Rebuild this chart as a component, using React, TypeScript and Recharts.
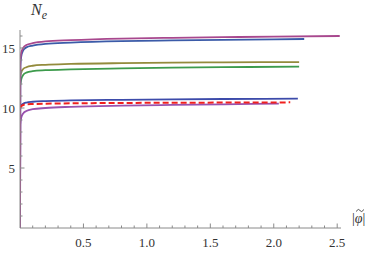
import { LineChart, Line, XAxis, YAxis } from 'recharts';

// N_e vs |phi~| curves
const topMagentaX = [0, 0.003, 0.01, 0.025, 0.05, 0.1, 0.2, 0.4, 0.8, 1.2, 1.6, 2.0, 2.52];
const topMagentaY = [0, 13.8, 14.6, 15.0, 15.25, 15.4, 15.55, 15.65, 15.78, 15.85, 15.9, 15.95, 16.0];

const topBlueX = [0, 0.003, 0.01, 0.025, 0.05, 0.1, 0.2, 0.4, 0.8, 1.2, 1.6, 2.0, 2.24];
const topBlueY = [0, 13.5, 14.3, 14.8, 15.05, 15.2, 15.35, 15.45, 15.57, 15.63, 15.68, 15.72, 15.75];

const oliveX = [0, 0.01, 0.025, 0.05, 0.1, 0.2, 0.4, 0.8, 1.2, 1.6, 2.2];
const oliveY = [12.6, 13.0, 13.25, 13.4, 13.52, 13.6, 13.67, 13.74, 13.78, 13.8, 13.83];

const greenX = [0, 0.01, 0.025, 0.05, 0.1, 0.2, 0.4, 0.8, 1.2, 1.6, 2.2];
const greenY = [11.8, 12.4, 12.75, 12.95, 13.07, 13.15, 13.22, 13.3, 13.36, 13.4, 13.44];

const lowBlueX = [0, 0.01, 0.025, 0.05, 0.1, 0.2, 0.4, 0.8, 1.2, 1.6, 2.19];
const lowBlueY = [9.9, 10.2, 10.35, 10.45, 10.52, 10.58, 10.63, 10.68, 10.72, 10.75, 10.78];

const redDashX = [0, 0.01, 0.025, 0.05, 0.1, 0.2, 0.4, 0.8, 1.2, 1.6, 2.13];
const redDashY = [10.0, 10.15, 10.25, 10.3, 10.33, 10.36, 10.39, 10.42, 10.44, 10.45, 10.47];

const lowPurpleX = [0, 0.003, 0.01, 0.025, 0.05, 0.1, 0.2, 0.4, 0.8, 1.2, 1.6, 2.04];
const lowPurpleY = [0, 8.6, 9.2, 9.55, 9.75, 9.9, 10.0, 10.1, 10.2, 10.26, 10.31, 10.36];

const xTicks = [0.1, 0.2, 0.3, 0.4, 0.5, 0.6, 0.7, 0.8, 0.9, 1.0, 1.1, 1.2, 1.3, 1.4, 1.5, 1.6, 1.7, 1.8, 1.9, 2.0, 2.1, 2.2, 2.3, 2.4, 2.5];
const yTicks = [1, 2, 3, 4, 5, 6, 7, 8, 9, 10, 11, 12, 13, 14, 15, 16];

const toPoints = (xs: number[], ys: number[]) => xs.map((x, i) => ({ x, y: ys[i] }));

const series = [
  { name: 'lowPurple', data: toPoints(lowPurpleX, lowPurpleY), color: '#9a52ae' },
  { name: 'lowBlue', data: toPoints(lowBlueX, lowBlueY), color: '#3d4baa' },
  { name: 'green', data: toPoints(greenX, greenY), color: '#3d9b4c' },
  { name: 'olive', data: toPoints(oliveX, oliveY), color: '#938b3c' },
  { name: 'topBlue', data: toPoints(topBlueX, topBlueY), color: '#3b5ba8' },
  { name: 'topMagenta', data: toPoints(topMagentaX, topMagentaY), color: '#a8488e' },
];
const redDash = toPoints(redDashX, redDashY);

const font = '"Liberation Serif", "DejaVu Serif", serif';
const axisColor = '#8a8a8a';

function XTick({ x, y, payload }: any) {
  const v = payload.value;
  const major = Math.abs(v * 2 - Math.round(v * 2)) < 1e-6;
  return (
    <g>
      <line x1={x} x2={x} y1={y} y2={y - (major ? 4.5 : 2.5)} stroke={axisColor} strokeWidth={1} />
      {major && (
        <text x={x} y={y + 19} textAnchor="middle" fontFamily={font} fontSize={13} fill="#333">
          {v.toFixed(1)}
        </text>
      )}
    </g>
  );
}

function YTick({ x, y, payload }: any) {
  const v = payload.value;
  const major = v % 5 === 0;
  return (
    <g>
      <line x1={x} x2={x + (major ? 4.5 : 2.5)} y1={y} y2={y} stroke={axisColor} strokeWidth={1} />
      {major && (
        <text x={x - 5} y={y + 4.5} textAnchor="end" fontFamily={font} fontSize={13} fill="#333">
          {v}
        </text>
      )}
    </g>
  );
}

export default function App() {
  return (
    <div style={{ position: 'absolute', left: 0, top: 0, width: 374, height: 253, background: '#fff' }}>
      <LineChart width={374} height={253} margin={{ top: 30, right: 33, bottom: 0, left: 0 }}>
        <XAxis
          type="number"
          dataKey="x"
          domain={[0, 2.53]}
          ticks={xTicks}
          interval={0}
          height={25}
          tickSize={0}
          tickMargin={0}
          tickLine={false}
          axisLine={{ stroke: axisColor }}
          tick={<XTick />}
          allowDataOverflow
        />
        <YAxis
          type="number"
          dataKey="y"
          domain={[0, 16.5]}
          ticks={yTicks}
          interval={0}
          width={20}
          tickSize={0}
          tickMargin={0}
          tickLine={false}
          axisLine={{ stroke: axisColor }}
          tick={<YTick />}
          allowDataOverflow
        />
        {series.map(s => (
          <Line
            key={s.name}
            data={s.data}
            dataKey="y"
            type="monotone"
            stroke={s.color}
            strokeWidth={1.8}
            dot={false}
            isAnimationActive={false}
          />
        ))}
        <Line
          data={redDash}
          dataKey="y"
          type="monotone"
          stroke="#f0201e"
          strokeWidth={2}
          strokeDasharray="6 3"
          dot={false}
          isAnimationActive={false}
        />
      </LineChart>
      <div style={{ position: 'absolute', left: 31, top: 1, fontFamily: font, fontStyle: 'italic', fontSize: 16, color: '#333', lineHeight: '18px' }}>
        N<span style={{ fontSize: 12, position: 'relative', top: 4 }}>e</span>
      </div>
      <div style={{ position: 'absolute', left: 352, top: 210, fontFamily: font, fontSize: 14, color: '#333', lineHeight: '18px', whiteSpace: 'nowrap' }}>
        |<span style={{ fontStyle: 'italic' }}>φ</span>|
      </div>
      <svg style={{ position: 'absolute', left: 356, top: 208 }} width={8} height={5}>
        <path d="M0.5 3.5 C1.5 1 3 1 4 2.5 C5 4 6.5 4 7.5 1.5" fill="none" stroke="#333" strokeWidth={0.9} />
      </svg>
    </div>
  );
}
